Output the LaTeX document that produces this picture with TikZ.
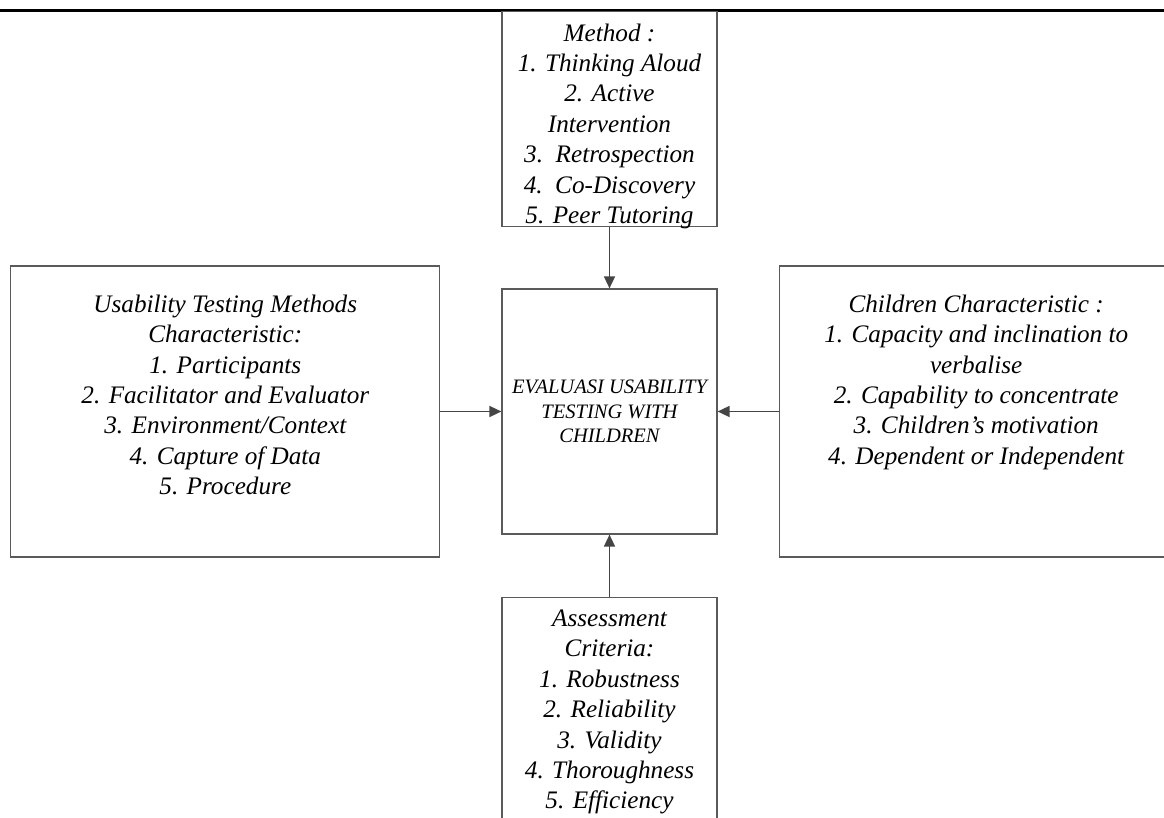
\documentclass[tikz,border=0pt]{standalone}
\usepackage{fontspec}
\setmainfont{Liberation Serif}
\usetikzlibrary{arrows.meta,positioning}
\definecolor{boxgray}{HTML}{5A5A5A}
\definecolor{arrgray}{HTML}{454545}
% text hung from the top of a box: height, width, top gap, lines
\newcommand{\hangtext}[4]{\parbox[c][#1][t]{#2}{\centering\vspace*{#3}\strut#4}}

\begin{document}
\begin{tikzpicture}[node distance=30.5pt,
                    >={Triangle[length=6pt,width=5.5pt]},
                    every node/.append style={align=center, font=\fontsize{12.6}{15.2}\selectfont\itshape},
                    blk/.style={draw=boxgray, line width=0.6pt, inner sep=0pt},
                    conn/.style={->, draw=arrgray, line width=0.8pt}]
  \useasboundingbox (0,0) rectangle (582pt,-409pt);
  \draw[line width=1.5pt] (0,-5.25pt) -- (582pt,-5.25pt);

  \node [blk, minimum width=107.5pt, minimum height=122.5pt,
         font=\fontsize{10.25}{12.25}\selectfont\itshape] (eval) at (304.75pt,-205.75pt)
        {EVALUASI USABILITY\\TESTING WITH\\CHILDREN};
  \node [blk, above=of eval] (method)
        {\hangtext{107.5pt}{107.5pt}{4pt}{Method :\\1. Thinking Aloud\\2. Active\\Intervention\\3.~~Retrospection\\4.~~Co-Discovery\\5. Peer Tutoring}};
  \node [blk, below=31pt of eval] (assess)
        {\hangtext{114pt}{107.5pt}{4pt}{Assessment\\Criteria:\\1. Robustness\\2. Reliability\\3. Validity\\4. Thoroughness\\5. Efficiency}};
  \node [blk, left=of eval] (usab)
        {\hangtext{145.5pt}{214.5pt}{12.5pt}{Usability Testing Methods\\Characteristic:\\1. Participants\\2. Facilitator and Evaluator\\3. Environment/Context\\4. Capture of Data\\5. Procedure}};
  \node [blk, right=of eval] (child)
        {\hangtext{145.5pt}{197pt}{12.5pt}{Children Characteristic :\\1. Capacity and inclination to\\verbalise\\2. Capability to concentrate\\3. Children’s motivation\\4. Dependent or Independent}};

  \draw[conn] (method) -- (eval);
  \draw[conn] (assess) -- (eval);
  \draw[conn] (usab) -- (eval);
  \draw[conn] (child) -- (eval);
\end{tikzpicture}
\end{document}
